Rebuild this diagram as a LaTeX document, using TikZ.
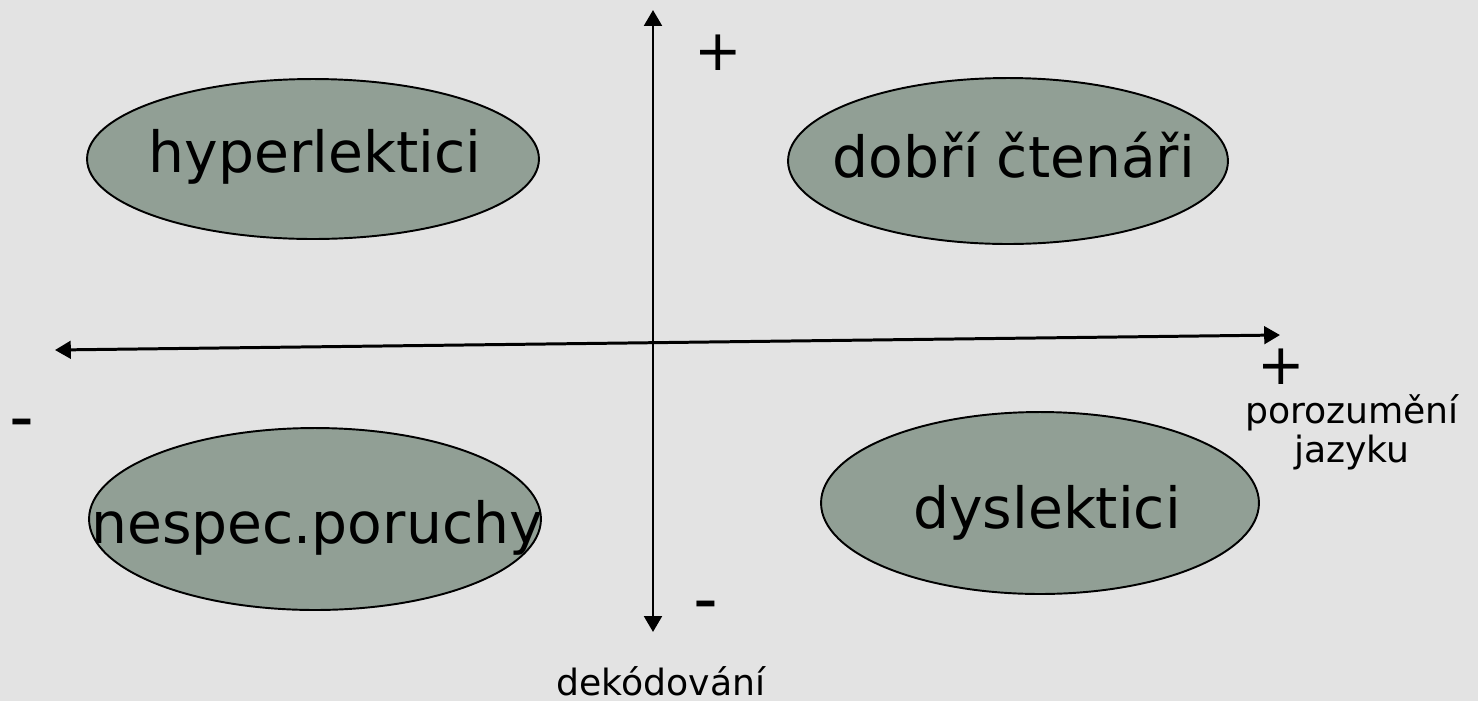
\documentclass[tikz,border=0pt]{standalone}
\usepackage{fontspec}
\setmainfont{DejaVu Sans}
\usetikzlibrary{arrows.meta, shapes.geometric}
\definecolor{slide-bg}{HTML}{E3E3E3}
\definecolor{blob-fill}{HTML}{919F95}

\begin{document}
\begin{tikzpicture}[x=0.02cm, y=-0.02cm,
      blob/.style={ellipse, draw=black, line width=1.1pt, fill=blob-fill, inner sep=0pt},
      bigtext/.style={font=\fontsize{32.3}{38}\selectfont, inner sep=0pt, anchor=base},
      smalltext/.style={font=\fontsize{20.6}{22.1}\selectfont, inner sep=0pt, align=center},
      signtext/.style={font=\fontsize{26}{30}\selectfont\bfseries, inner sep=0pt, anchor=base},
      axis/.style={line width=1.7pt, {Triangle[length=9pt, width=10pt]}-{Triangle[length=9pt, width=10pt]}}]
    \useasboundingbox (0,0) rectangle (1478,701);
    \fill[slide-bg] (0,0) rectangle (1478,701);
    % the four groups
    \node[blob, minimum width=9.04cm, minimum height=3.2cm] (hyper) at (313,159) {};
    \node[blob, minimum width=8.8cm, minimum height=3.32cm] (dobri) at (1008,161) {};
    \node[blob, minimum width=9.04cm, minimum height=3.64cm] (nespec) at (315,519) {};
    \node[blob, minimum width=8.76cm, minimum height=3.64cm] (dys) at (1040,503) {};
    % axes
    \coordinate (xneg) at (55,350);
    \coordinate (xpos) at (1280,335);
    \coordinate (ypos) at (653,10);
    \coordinate (yneg) at (653,632);
    \draw[axis] (xneg) -- (xpos);
    \draw[axis] (ypos) -- (yneg);
    % labels
    \node[bigtext] (hyperlbl) at (315,172) {hyperlektici};
    \node[bigtext] (dobrilbl) at (1014,177) {dobří čtenáři};
    \node[bigtext] (nespeclbl) at (317,543) {nespec.poruchy};
    \node[bigtext] (dyslbl) at (1047,528) {dyslektici};
    \node[bigtext] (yplus) at (718,70) {+};
    \node[bigtext] (xplus) at (1281,384) {+};
    \node[signtext] (xminus) at (22,434) {--};
    \node[signtext] (yminus) at (706,616) {--};
    \node[smalltext, anchor=base] (ylbl) at (661,695) {dekódování};
    \node[smalltext, anchor=base] (xlbl) at (1352,462) {porozumění\\jazyku};
\end{tikzpicture}
\end{document}
